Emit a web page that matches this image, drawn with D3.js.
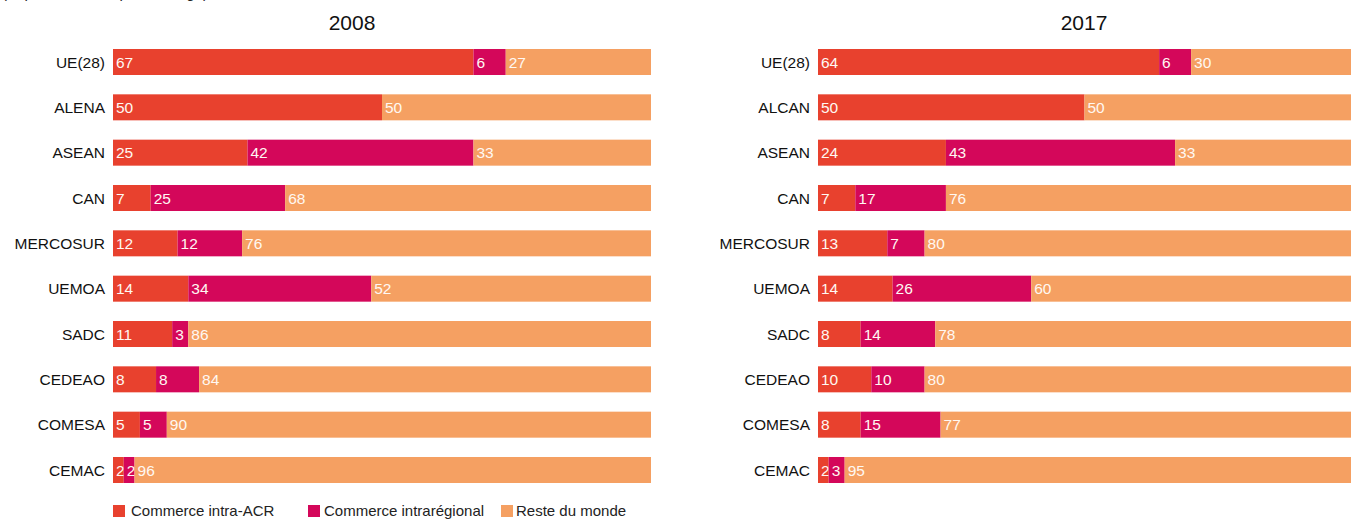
<!DOCTYPE html>
<html><head><meta charset="utf-8">
<script src="https://cdn.jsdelivr.net/npm/d3@7"></script>
<style>body{margin:0;background:#fff;} svg{display:block;font-family:"Liberation Sans",Arial,sans-serif;}</style>
</head><body><svg id="c" width="1362" height="519"></svg>
<script>
const cats2008 = ["UE(28)","ALENA","ASEAN","CAN","MERCOSUR","UEMOA","SADC","CEDEAO","COMESA","CEMAC"];
const cats2017 = ["UE(28)","ALCAN","ASEAN","CAN","MERCOSUR","UEMOA","SADC","CEDEAO","COMESA","CEMAC"];
const intraACR2008 = [67,50,25,7,12,14,11,8,5,2];
const intraReg2008 = [6,0,42,25,12,34,3,8,5,2];
const reste2008    = [27,50,33,68,76,52,86,84,90,96];
const intraACR2017 = [64,50,24,7,13,14,8,10,8,2];
const intraReg2017 = [6,0,43,17,7,26,14,10,15,3];
const reste2017    = [30,50,33,76,80,60,78,80,77,95];
const seriesNames = ["Commerce intra-ACR","Commerce intrarégional","Reste du monde"];
const colors = ["#E8412E","#D4075A","#F5A062"];
const years = ["2008","2017"];

const svg = d3.select("#c");
svg.append("text").attr("x",2).attr("y",-2).attr("font-size",15).attr("fill","#222")
  .text("(Exportations, en pourcentage)");

function panel(x0,x1,titleX,title,cats,a,b,c){
  const g = svg.append("g");
  const x = d3.scaleLinear().domain([0,100]).range([x0,x1]);
  const y = d3.scaleBand().domain(cats).range([49, 483]).paddingInner(0.4265).paddingOuter(0);
  g.append("text").attr("x",titleX).attr("y",30).attr("text-anchor","middle")
    .attr("font-size",21).attr("fill","#111").text(title);
  const rows = cats.map((k,i)=>({k, vals:[a[i],b[i],c[i]]}));
  rows.forEach(r=>{
    let acc=0;
    r.vals.forEach((v,j)=>{
      if(v<=0) return;
      g.append("rect").attr("x",x(acc)).attr("y",y(r.k)).attr("width",x(acc+v)-x(acc))
        .attr("height",y.bandwidth()).attr("fill",colors[j]);
      g.append("text").attr("x",x(acc)+3).attr("y",y(r.k)+y.bandwidth()/2).attr("dy","0.36em")
        .attr("font-size",15.5).attr("fill","#fff8f2").text(v);
      acc+=v;
    });
    g.append("text").attr("x",x0-8).attr("y",y(r.k)+y.bandwidth()/2).attr("dy","0.36em")
      .attr("text-anchor","end").attr("font-size",15.5).attr("fill","#111").text(r.k);
  });
}
panel(113,651,352,years[0],cats2008,intraACR2008,intraReg2008,reste2008);
panel(818,1351,1084,years[1],cats2017,intraACR2017,intraReg2017,reste2017);

const legX = [113,308,501];
seriesNames.forEach((s,i)=>{
  svg.append("rect").attr("x",legX[i]).attr("y",505).attr("width",12).attr("height",12).attr("fill",colors[i]);
  svg.append("text").attr("x",legX[i]+(i==0?18:i==1?16:15)).attr("y",511).attr("dy","0.36em")
    .attr("font-size",15).attr("fill","#222").text(s);
});
</script></body></html>
